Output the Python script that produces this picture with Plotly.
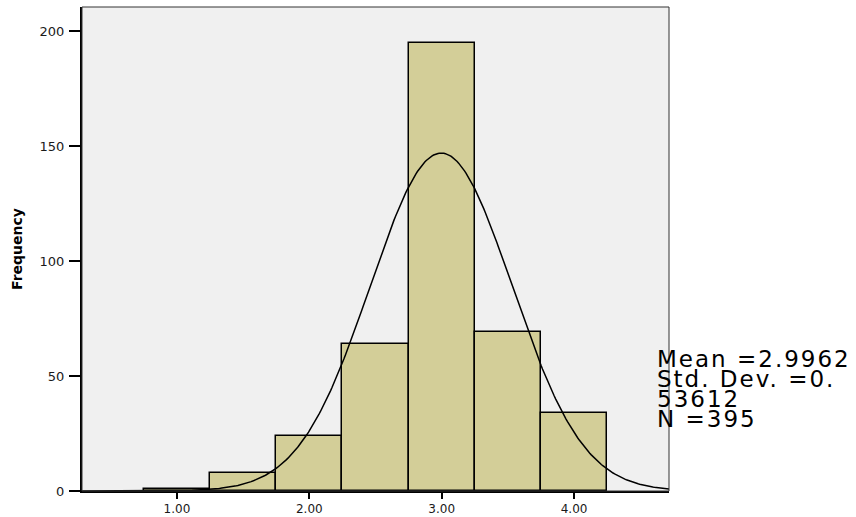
import numpy as np
import plotly.graph_objects as go

# Data
bin_centers = [1.0, 1.5, 2.0, 2.5, 3.0, 3.5, 4.0]
frequencies = [1, 8, 24, 64, 195, 69, 34]
bin_width = 0.5
mean_val = 2.9962
std_val = 0.53612
n_val = 395
x_ticks = [1, 2, 3, 4]
x_tick_labels = ["1.00", "2.00", "3.00", "4.00"]
y_ticks = [0, 50, 100, 150, 200]
stat_lines = ["Mean =2.9962", "Std. Dev. =0.", "53612", "N =395"]

x_range = [0.283, 4.717]
y_range = [0, 210.5]

FONT = "DejaVu Sans, Liberation Sans, Arial, sans-serif"

fig = go.Figure()

fig.add_trace(go.Bar(
    x=bin_centers, y=frequencies, width=bin_width,
    marker=dict(color="#d3ce98", line=dict(color="#000000", width=1.5)),
    hoverinfo="x+y", showlegend=False,
))

# Normal curve from the displayed statistics
xs = np.linspace(x_range[0], x_range[1], 400)
ys = n_val * bin_width / (std_val * np.sqrt(2 * np.pi)) * np.exp(-0.5 * ((xs - mean_val) / std_val) ** 2)
fig.add_trace(go.Scatter(
    x=xs, y=ys, mode="lines",
    line=dict(color="#000000", width=1.5),
    hoverinfo="skip", showlegend=False,
))

fig.update_layout(
    width=856, height=517,
    margin=dict(l=82, r=187, t=7, b=26, autoexpand=False),
    paper_bgcolor="white",
    plot_bgcolor="#f0f0f0",
    font=dict(family=FONT, color="#000000"),
    bargap=0,
    xaxis=dict(
        range=x_range, tickvals=x_ticks, ticktext=x_tick_labels,
        ticks="outside", ticklen=6, tickwidth=1.5, tickcolor="#000000",
        ticklabelstandoff=0, automargin=False,
        showgrid=False, zeroline=False,
        showline=True, linecolor="#000000", linewidth=2,
        tickfont=dict(size=12, color="#1a1a1a", family=FONT),
        fixedrange=True,
    ),
    yaxis=dict(
        range=y_range, tickvals=y_ticks,
        ticks="outside", ticklen=11, tickwidth=1.5, tickcolor="#000000",
        ticklabelstandoff=2, automargin=False,
        showgrid=False, zeroline=False,
        showline=True, linecolor="#000000", linewidth=2,
        tickfont=dict(size=13, color="#1a1a1a", family=FONT),
        title=dict(text="<b>Frequency</b>", font=dict(size=14, color="#000000", family=FONT), standoff=14),
        fixedrange=True,
    ),
    shapes=[dict(
        type="rect", xref="paper", yref="paper", x0=0, y0=0, x1=1, y1=1,
        line=dict(color="#333333", width=1), layer="above",
    )],
)

# Stats block as a single multi-line text; tight line spacing via small base size
stat_html = "<br>".join(
    f"<span style='font-size:23px;letter-spacing:2px'>{t}</span>" for t in stat_lines
)
fig.add_annotation(
    text=stat_html, xref="paper", yref="paper", x=0.976, y=0.2116,
    xanchor="left", yanchor="middle", align="left", showarrow=False,
    font=dict(size=15.3, color="#000000", family=FONT),
)

fig.write_html("out.html", config={"displayModeBar": False},
               post_script="document.body.style.margin='0';")
